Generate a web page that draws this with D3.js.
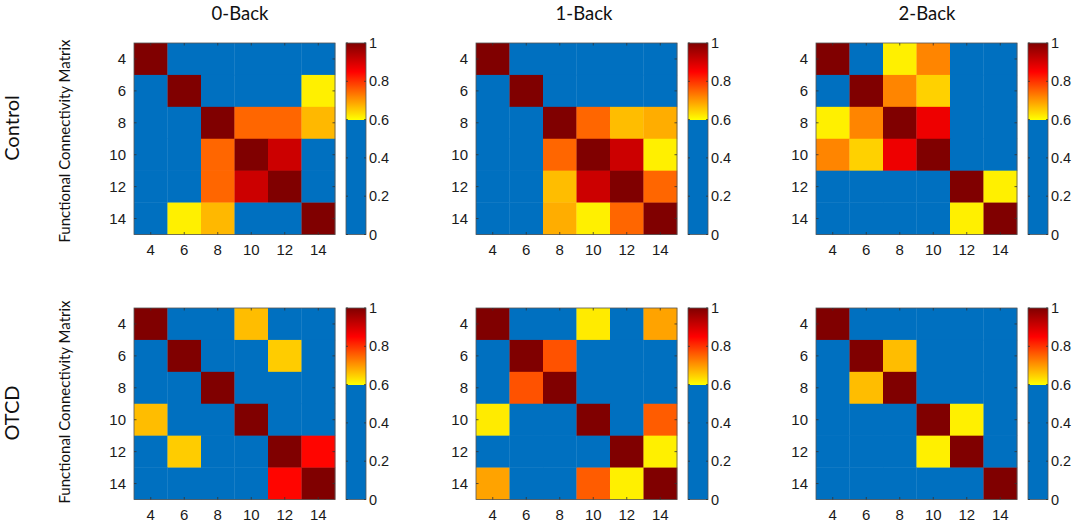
<!DOCTYPE html>
<html><head><meta charset="utf-8">
<script src="https://cdn.jsdelivr.net/npm/d3@7"></script>
<style>body{margin:0;background:#fff}svg{display:block}</style>
</head><body>
<svg id="c" width="1074" height="523"></svg>
<script>
const nodes = [4, 6, 8, 10, 12, 14];
const taskTitles = ["0-Back", "1-Back", "2-Back"];
const groupLabels = ["Control", "OTCD"];
const yLabel = "Functional Connectivity Matrix";
const cbTicks = [0, 0.2, 0.4, 0.6, 0.8, 1];

const control0 = [
  [1, 0, 0, 0, 0, 0],
  [0, 1, 0, 0, 0, 0.615],
  [0, 0, 1, 0.75, 0.75, 0.67],
  [0, 0, 0.75, 1, 0.91, 0],
  [0, 0, 0.75, 0.91, 1, 0],
  [0, 0.615, 0.67, 0, 0, 1]
];
const control1 = [
  [1, 0, 0, 0, 0, 0],
  [0, 1, 0, 0, 0, 0],
  [0, 0, 1, 0.75, 0.665, 0.68],
  [0, 0, 0.75, 1, 0.91, 0.615],
  [0, 0, 0.665, 0.91, 1, 0.75],
  [0, 0, 0.68, 0.615, 0.75, 1]
];
const control2 = [
  [1, 0, 0.615, 0.72, 0, 0],
  [0, 1, 0.72, 0.645, 0, 0],
  [0.615, 0.72, 1, 0.87, 0, 0],
  [0.72, 0.645, 0.87, 1, 0, 0],
  [0, 0, 0, 0, 1, 0.615],
  [0, 0, 0, 0, 0.615, 1]
];
const otcd0 = [
  [1, 0, 0, 0.665, 0, 0],
  [0, 1, 0, 0, 0.65, 0],
  [0, 0, 1, 0, 0, 0],
  [0.665, 0, 0, 1, 0, 0],
  [0, 0.65, 0, 0, 1, 0.845],
  [0, 0, 0, 0, 0.845, 1]
];
const otcd1 = [
  [1, 0, 0, 0.62, 0, 0.69],
  [0, 1, 0.77, 0, 0, 0],
  [0, 0.77, 1, 0, 0, 0],
  [0.62, 0, 0, 1, 0, 0.76],
  [0, 0, 0, 0, 1, 0.615],
  [0.69, 0, 0, 0.76, 0.615, 1]
];
const otcd2 = [
  [1, 0, 0, 0, 0, 0],
  [0, 1, 0.665, 0, 0, 0],
  [0, 0.665, 1, 0, 0, 0],
  [0, 0, 0, 1, 0.615, 0],
  [0, 0, 0, 0.615, 1, 0],
  [0, 0, 0, 0, 0, 1]
];
const matrices = [[control0, control1, control2], [otcd0, otcd1, otcd2]];

const BLUE = "#0070c0";
const hot = d3.scaleLinear().domain([0.6, 0.85, 1]).range(["#ffff00", "#ff0000", "#800000"]).clamp(true);
const color = v => v < 0.6 ? BLUE : hot(v);

const svg = d3.select("#c");
const colLeft = [134, 476, 816];
const rowTop = [43, 308];
const W = 201, H = 191.5;
const cbOff = 212, cbW = 20;
const tickFont = "'Liberation Sans', Arial, sans-serif";
const textFont = "Lato, 'Open Sans', sans-serif";

// titles
const titleX = [240, 584, 927];
taskTitles.forEach((t, i) => {
  svg.append("text").attr("x", titleX[i]).attr("y", 20).attr("text-anchor", "middle")
    .attr("font-family", textFont).attr("font-size", 18.5).attr("fill", "#111").text(t);
});
// group labels
const groupY = [128, 413];
const ylabY = [141, 402];
groupLabels.forEach((g, r) => {
  svg.append("text").attr("transform", `translate(19,${groupY[r]}) rotate(-90)`)
    .attr("text-anchor", "middle").attr("font-family", textFont).attr("font-size", 20)
    .attr("fill", "#111").text(g);
  svg.append("text").attr("transform", `translate(70,${ylabY[r]}) rotate(-90)`)
    .attr("text-anchor", "middle").attr("font-family", textFont).attr("font-size", 15)
    .attr("fill", "#111").text(yLabel);
});

// gradient for colorbar (blue below 0.6, hot ramp above)
const defs = svg.append("defs");
const grad = defs.append("linearGradient").attr("id", "cbg").attr("x1", 0).attr("y1", 1).attr("x2", 0).attr("y2", 0);
const stops = [];
for (let k = 0; k <= 100; k++) stops.push(k / 100);
stops.push(0.5999);
stops.sort((a, b) => a - b);
grad.selectAll("stop").data(stops).join("stop")
  .attr("offset", d => d).attr("stop-color", d => color(d));

matrices.forEach((rowM, r) => {
  rowM.forEach((M, c) => {
    const x0 = colLeft[c], y0 = rowTop[r];
    const x = d3.scaleBand().domain(nodes).range([x0, x0 + W]);
    const y = d3.scaleBand().domain(nodes).range([y0, y0 + H]);
    const g = svg.append("g");
    const cells = [];
    M.forEach((row, i) => row.forEach((v, j) => cells.push({ r: nodes[i], c: nodes[j], v })));
    g.selectAll("rect.cell").data(cells).join("rect").attr("class", "cell")
      .attr("x", d => x(d.c)).attr("y", d => y(d.r))
      .attr("width", x.bandwidth() + 0.3).attr("height", y.bandwidth() + 0.3)
      .attr("fill", d => color(d.v));
    g.append("rect").attr("x", x0).attr("y", y0).attr("width", W).attr("height", H)
      .attr("fill", "none").attr("stroke", "#555").attr("stroke-width", 0.8);
    const tl = 2.5;
    nodes.forEach(n => {
      const cx = x(n) + x.bandwidth() / 2, cy = y(n) + y.bandwidth() / 2;
      g.append("line").attr("x1", cx).attr("x2", cx).attr("y1", y0 + H).attr("y2", y0 + H - tl).attr("stroke", "#333").attr("stroke-width", 0.8);
      g.append("line").attr("x1", cx).attr("x2", cx).attr("y1", y0).attr("y2", y0 + tl).attr("stroke", "#333").attr("stroke-width", 0.8);
      g.append("line").attr("y1", cy).attr("y2", cy).attr("x1", x0).attr("x2", x0 + tl).attr("stroke", "#333").attr("stroke-width", 0.8);
      g.append("line").attr("y1", cy).attr("y2", cy).attr("x1", x0 + W).attr("x2", x0 + W - tl).attr("stroke", "#333").attr("stroke-width", 0.8);
    });
    g.selectAll("text.xt").data(nodes).join("text").attr("class", "xt")
      .attr("x", d => x(d) + x.bandwidth() / 2).attr("y", y0 + H + 20.5)
      .attr("text-anchor", "middle").attr("font-family", tickFont).attr("font-size", 15)
      .attr("fill", "#1a1a1a").text(d => d);
    g.selectAll("text.yt").data(nodes).join("text").attr("class", "yt")
      .attr("x", x0 - 8).attr("y", d => y(d) + y.bandwidth() / 2 + 5.3)
      .attr("text-anchor", "end").attr("font-family", tickFont).attr("font-size", 15)
      .attr("fill", "#1a1a1a").text(d => d);
    const cbx = x0 + cbOff;
    const cy = d3.scaleLinear().domain([0, 1]).range([y0 + H, y0]);
    g.append("rect").attr("x", cbx).attr("y", y0).attr("width", cbW).attr("height", H)
      .attr("fill", "url(#cbg)").attr("stroke", "#555").attr("stroke-width", 0.8);
    cbTicks.forEach(t => {
      g.append("line").attr("x1", cbx + cbW).attr("x2", cbx + cbW - 2).attr("y1", cy(t)).attr("y2", cy(t)).attr("stroke", "#333").attr("stroke-width", 0.8);
      g.append("line").attr("x1", cbx).attr("x2", cbx + 2).attr("y1", cy(t)).attr("y2", cy(t)).attr("stroke", "#333").attr("stroke-width", 0.8);
      g.append("text").attr("x", cbx + cbW + 3).attr("y", cy(t) + 5)
        .attr("font-family", tickFont).attr("font-size", 14.5).attr("fill", "#1a1a1a").text(d3.format("~g")(t));
    });
  });
});
</script>
</body></html>
